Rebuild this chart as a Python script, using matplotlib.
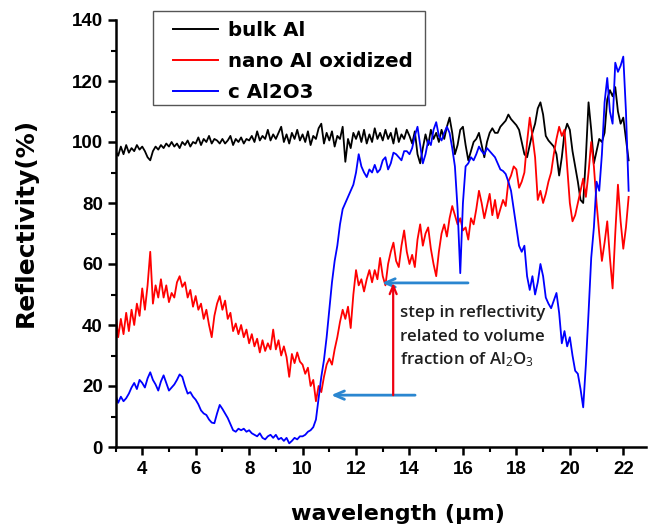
import numpy as np
import matplotlib
matplotlib.use('Agg')
import matplotlib.pyplot as plt
from matplotlib.ticker import MultipleLocator
from matplotlib.patches import Rectangle

plt.rcParams['font.family'] = ['DejaVu Sans']
plt.rcParams['mathtext.fontset'] = 'custom'
plt.rcParams['mathtext.rm'] = 'Open Sans'
plt.rcParams['mathtext.it'] = 'Open Sans'
plt.rcParams['mathtext.bf'] = 'Open Sans:bold'

# ---- data ----
wl_start = 3.0   # first wavelength sample (um)
wl_step = 0.1    # sampling step (um)

bulk_al = [
    97, 95.5, 98.5, 96, 99, 96.5, 98, 97, 99, 97.5,
    98.5, 97, 95, 94, 97, 98.5, 97.5, 99, 98, 99.5,
    98.5, 100, 98.5, 99.5, 98, 100, 99, 100.5, 98.5, 100,
    99.5, 101.5, 99, 101, 100, 102, 99.5, 101, 100.5, 99.5,
    101, 99.5, 100.5, 102, 99, 101, 100, 101.5, 99.5, 101,
    100.5, 102, 100, 103.5, 100.5, 102, 101, 104, 100.5, 102.5,
    101, 103, 105, 100, 102.5, 99.5, 103, 101, 104, 100.5,
    102.5, 100, 103.5, 99, 102, 101, 104.5, 106, 99.5, 103,
    100.5, 103.5, 98.5, 102, 101, 105, 93.5, 101, 98, 103,
    101, 103.5, 100, 104, 99.5, 102.5, 100, 104.5, 101, 103,
    100.5, 104, 101, 103, 99.5, 104.5, 100, 102.5, 101, 104,
    102, 99.5, 103.5, 96, 93, 98, 102.5, 99, 104, 101,
    103, 100, 104, 101, 105, 108, 103, 96, 99, 104,
    105, 99, 94, 97, 100, 101, 103, 99, 95, 100,
    103, 104.5, 103, 103, 105, 106, 107, 109, 107.5, 106.5,
    105.5, 104, 100, 96, 95, 99, 103, 106, 111, 113,
    109, 102, 100.5, 99.5, 98.5, 96, 89, 95, 103, 106,
    104, 97, 92, 87, 81, 80, 95, 113, 104, 93,
    97, 101, 100, 103, 114, 117, 115, 118, 110, 106,
    108, 101, 94,
]

nano_al_oxidized = [
    44, 36, 42, 37, 44, 38, 45, 40, 47, 43,
    52, 45, 53, 64, 47, 53, 49, 55, 49, 53,
    47.5, 50.5, 49, 54, 56, 52.5, 54, 49, 51.5, 46,
    49.5, 45, 47, 42, 45, 40, 36, 43, 47, 49.5,
    45, 48, 42, 44, 38, 40.5, 37, 40, 36, 38.5,
    34, 37, 33, 35.5, 31, 35, 31.5, 34, 32, 38.5,
    32, 35, 30, 33, 29.5, 23, 30.5, 27.5, 31, 28,
    27, 24, 26, 20, 22, 15, 20, 18, 23, 27,
    29, 27, 32, 36, 41, 45, 42, 46, 39, 50,
    58, 53, 55, 51, 55, 58, 54, 58, 55, 62,
    56, 53, 60, 64, 67, 61, 59, 66, 71, 64,
    60, 63, 59, 68, 73, 66, 70, 72, 65, 60,
    56, 64, 70, 73, 69, 75, 79, 76, 73, 75,
    71, 72, 68, 75, 73, 78, 84, 80, 75, 79,
    83, 76, 81, 75, 78, 81, 79, 87, 89, 92,
    91, 85, 87, 90, 100, 108, 102, 95, 81, 84,
    80, 83, 87, 90, 96, 101, 105, 102, 104, 92,
    80, 74, 76, 80, 84, 88, 82, 90, 100, 92,
    80, 70, 61, 67, 74, 62, 52, 70, 86, 74,
    65, 72, 82,
]

c_al2o3 = [
    17, 14.5, 16.5, 15, 16, 17.5, 19.5, 21, 19, 22,
    21, 19.5, 22.5, 24.5, 22, 20.5, 18.5, 21.5, 23.5, 21,
    18.5, 19.5, 20.5, 22, 23.8, 23, 20, 17.5, 18, 16.5,
    15.5, 14, 12, 11, 10.5, 9, 8, 7.8, 11, 13.8,
    12.5, 11, 9.5, 7.5, 5.5, 5, 6, 5.5, 6, 5,
    5.5, 4.5, 4, 3.5, 4.5, 3, 2.5, 3.5, 4, 3,
    4, 2.5, 3, 2, 3, 1.2, 2, 3, 2.5, 3.5,
    3.5, 4, 5, 5.5, 6.5, 9, 16, 23, 28.5, 36,
    45, 54, 61, 66, 73, 78, 80, 82, 84, 86,
    90, 96, 92, 90, 88.5, 91, 90, 92.5, 90, 91,
    94, 95, 91, 93, 96.5, 96, 95, 94, 97, 97,
    96, 98, 102, 105, 99, 93, 96, 100.5, 99, 104,
    106.5, 102, 100.5, 103, 105, 103, 98, 92, 78, 57,
    80, 92, 93, 95, 94, 96, 98.5, 97, 96, 98,
    97, 96, 95, 93, 91, 90.5, 89.5, 87, 84, 78,
    72, 66, 64, 66, 56, 51.5, 56, 50, 54, 60,
    56, 49, 47, 45.5, 48, 50.5, 44, 34, 38, 33,
    36, 30, 25, 24, 19, 13, 27, 44, 62, 72,
    87, 84, 96, 113, 121, 110, 106, 126, 123, 125,
    128, 110, 84,
]

series_labels = ['bulk Al', 'nano Al oxidized', 'c Al2O3']
x_ticks = [4, 6, 8, 10, 12, 14, 16, 18, 20, 22]
y_ticks = [0, 20, 40, 60, 80, 100, 120, 140]

wavelength = np.round(wl_start + wl_step * np.arange(len(bulk_al)), 2)

# ---- figure ----
W, H = 649, 527
fig = plt.figure(figsize=(W / 100, H / 100), dpi=100)
ax_l, ax_r, ax_t, ax_b = 115.5, 646, 20, 447
ax = fig.add_axes([ax_l / W, 1 - ax_b / H, (ax_r - ax_l) / W, (ax_b - ax_t) / H])

colors = ['#000000', '#ff0000', '#0000ff']
for ys, lab, c in zip([bulk_al, nano_al_oxidized, c_al2o3], series_labels, colors):
    ax.plot(wavelength, ys, color=c, lw=1.3, label=lab, solid_joinstyle='round')

ax.set_xlim(3, 22.85)
ax.set_ylim(0, 140)
for s in ['top', 'right']:
    ax.spines[s].set_visible(False)
for s in ['left', 'bottom']:
    ax.spines[s].set_linewidth(1.8)

ax.set_xticks(x_ticks)
ax.set_yticks(y_ticks)
ax.xaxis.set_minor_locator(MultipleLocator(1))
ax.yaxis.set_minor_locator(MultipleLocator(10))
ax.tick_params(which='major', direction='out', length=6, width=1.8, labelsize=13.5, pad=3)
ax.tick_params(axis='x', which='major', pad=4)
ax.tick_params(which='minor', direction='out', length=3.5, width=1.5)
for lab in ax.get_xticklabels() + ax.get_yticklabels():
    lab.set_fontweight('bold')
    lab.set_family(['Liberation Sans', 'DejaVu Sans'])

ax.set_xlabel('wavelength (μm)', fontsize=16, fontweight='bold')
ax.set_ylabel('Reflectivity(%)', fontsize=18, fontweight='bold')
ax.xaxis.set_label_coords((398 - ax_l) / (ax_r - ax_l), (ax_b - 504) / (ax_b - ax_t))
ax.yaxis.set_label_coords((38 - ax_l) / (ax_r - ax_l), (ax_b - 222) / (ax_b - ax_t))

# legend: frame drawn as a separate box, entries placed inside it
ax.add_patch(Rectangle((153 / W, 1 - 105 / H), 272 / W, 94 / H, transform=fig.transFigure,
                       clip_on=False, facecolor='white', edgecolor='#555555', lw=1.0, zorder=4))
leg = ax.legend(loc='upper left', bbox_to_anchor=(173 / W, 1 - 21 / H), bbox_transform=fig.transFigure,
                borderaxespad=0, borderpad=0, frameon=False,
                prop={'weight': 'bold', 'size': 14.3}, handlelength=2.26, handletextpad=0.5,
                labelspacing=0.6)
leg.set_zorder(5)
for ln in leg.get_lines():
    ln.set_linewidth(1.4)

# ---- annotations ----
arrow_blue = '#2a86d0'
ax.annotate('', xy=(12.97, 53.8), xytext=(16.19, 53.8),
            arrowprops=dict(arrowstyle='->,head_length=0.7,head_width=0.3', color=arrow_blue, lw=2,
                            shrinkA=0, shrinkB=0))
ax.annotate('', xy=(11.07, 17.0), xytext=(14.21, 17.0),
            arrowprops=dict(arrowstyle='->,head_length=0.7,head_width=0.3', color=arrow_blue, lw=2,
                            shrinkA=0, shrinkB=0))
ax.annotate('', xy=(13.39, 53.8), xytext=(13.39, 17.0),
            arrowprops=dict(arrowstyle='->,head_length=0.6,head_width=0.25', color='#ee0010', lw=1.6,
                            shrinkA=0, shrinkB=0))
txt_kw = dict(fontsize=12.2, fontweight='semibold', family='Open Sans', color='#1f1f1f', va='center', ha='left')
ax.text(13.65, 43.9, 'step in reflectivity', **txt_kw)
ax.text(13.65, 36.1, 'related to volume', **txt_kw)
ax.text(13.65, 28.5, 'fraction of Al$_2$O$_3$', **txt_kw)

fig.savefig('out.png', dpi=100)
